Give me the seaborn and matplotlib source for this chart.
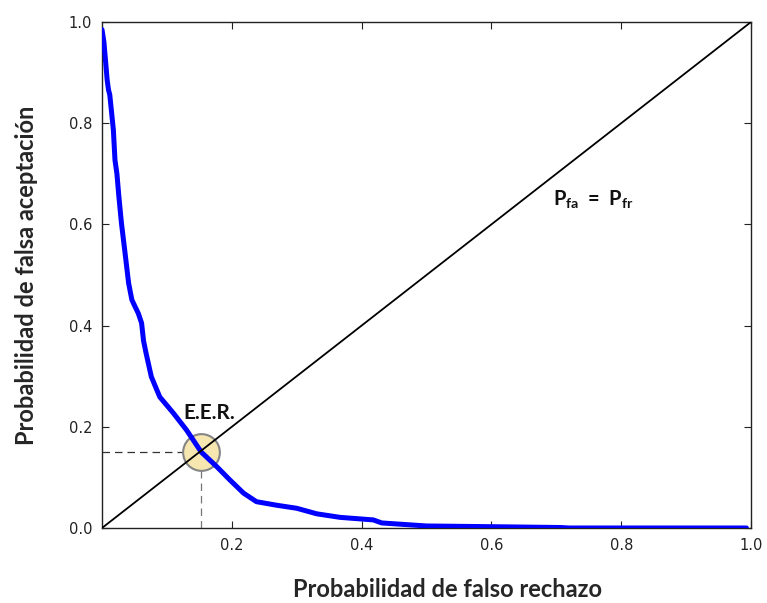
import matplotlib
matplotlib.use("Agg")
import matplotlib.pyplot as plt
import seaborn as sns
import pandas as pd

# False rejection / false acceptance trade-off curve
p_fr = [0.0, 0.003, 0.005, 0.008, 0.010, 0.012, 0.0175, 0.020, 0.023, 0.026,
        0.030, 0.035, 0.041, 0.046, 0.050, 0.056, 0.061, 0.064, 0.068, 0.076,
        0.089, 0.110, 0.130, 0.153, 0.177, 0.197, 0.218, 0.238, 0.269, 0.300,
        0.331, 0.367, 0.418, 0.431, 0.500, 0.572, 0.706, 0.720, 0.993]
p_fa = [0.985, 0.960, 0.930, 0.885, 0.866, 0.856, 0.787, 0.727, 0.700, 0.655,
        0.602, 0.549, 0.484, 0.451, 0.440, 0.424, 0.405, 0.370, 0.345, 0.299,
        0.259, 0.227, 0.194, 0.150, 0.121, 0.095, 0.069, 0.052, 0.045, 0.039,
        0.028, 0.021, 0.016, 0.010, 0.004, 0.003, 0.001, 0.000, 0.000]

# Equal error rate point
eer_x = 0.153
eer_y = 0.150

diag = [0.0, 1.0]
x_ticks = [0.2, 0.4, 0.6, 0.8, 1.0]
y_ticks = [0.0, 0.2, 0.4, 0.6, 0.8, 1.0]

sns.set_style("ticks")
plt.rcParams["font.family"] = ["DejaVu Sans"]
plt.rcParams["mathtext.fontset"] = "custom"
plt.rcParams["mathtext.rm"] = "Lato"
plt.rcParams["mathtext.bf"] = "Lato:bold"

label_font = "Lato"

fig = plt.figure(figsize=(7.67, 6.03), dpi=100)
ax = fig.add_axes([102 / 767, 75 / 603, 649 / 767, 506 / 603])

curve = pd.DataFrame({"p_fr": p_fr, "p_fa": p_fa})
sns.lineplot(data=curve, x="p_fr", y="p_fa", sort=False, estimator=None,
             color="#0000ff", lw=3.6, ax=ax, zorder=3)
sns.lineplot(x=diag, y=diag, color="black", lw=1.3, ax=ax, zorder=4)

# Guide lines down to the axes from the EER point
ax.plot([0, eer_x], [eer_y, eer_y], ls=(0, (6, 4)), color="#333333", lw=0.9, zorder=2)
ax.plot([eer_x, eer_x], [0, eer_y], ls=(0, (6, 4)), color="#777777", lw=0.9, zorder=2)

sns.scatterplot(x=[eer_x], y=[eer_y], s=700, color="#f6e6b0", edgecolor="#858585",
                linewidth=1.5, ax=ax, zorder=2.5)

ax.text(0.166, 0.228, "E.E.R.", fontsize=15, fontweight="bold", family=label_font,
        color="#111111", ha="center", va="center")
ax.text(0.695, 0.648, r"$\mathbf{P_{fa}\;=\;P_{fr}}$", fontsize=14.5,
        color="#111111", ha="left", va="center")

ax.set_xlim(0, 1)
ax.set_ylim(0, 1)
ax.set_xticks(x_ticks)
ax.set_yticks(y_ticks)
ax.set_xticklabels([f"{t:.1f}" for t in x_ticks])
ax.set_yticklabels([f"{t:.1f}" for t in y_ticks])
ax.tick_params(direction="in", length=5, width=0.8, top=True, right=True,
               labelsize=10.5, colors="#222222", pad=7)
for sp in ax.spines.values():
    sp.set_visible(True)
    sp.set_linewidth(1.0)
    sp.set_color("#222222")

ax.set_xlabel("Probabilidad de falso rechazo", fontsize=17, fontweight="bold",
              family=label_font)
ax.xaxis.set_label_coords(0.532, -0.098)
ax.set_ylabel("Probabilidad de falsa aceptación", fontsize=17, fontweight="bold",
              family=label_font, labelpad=22)

fig.savefig("out.png", dpi=100)
